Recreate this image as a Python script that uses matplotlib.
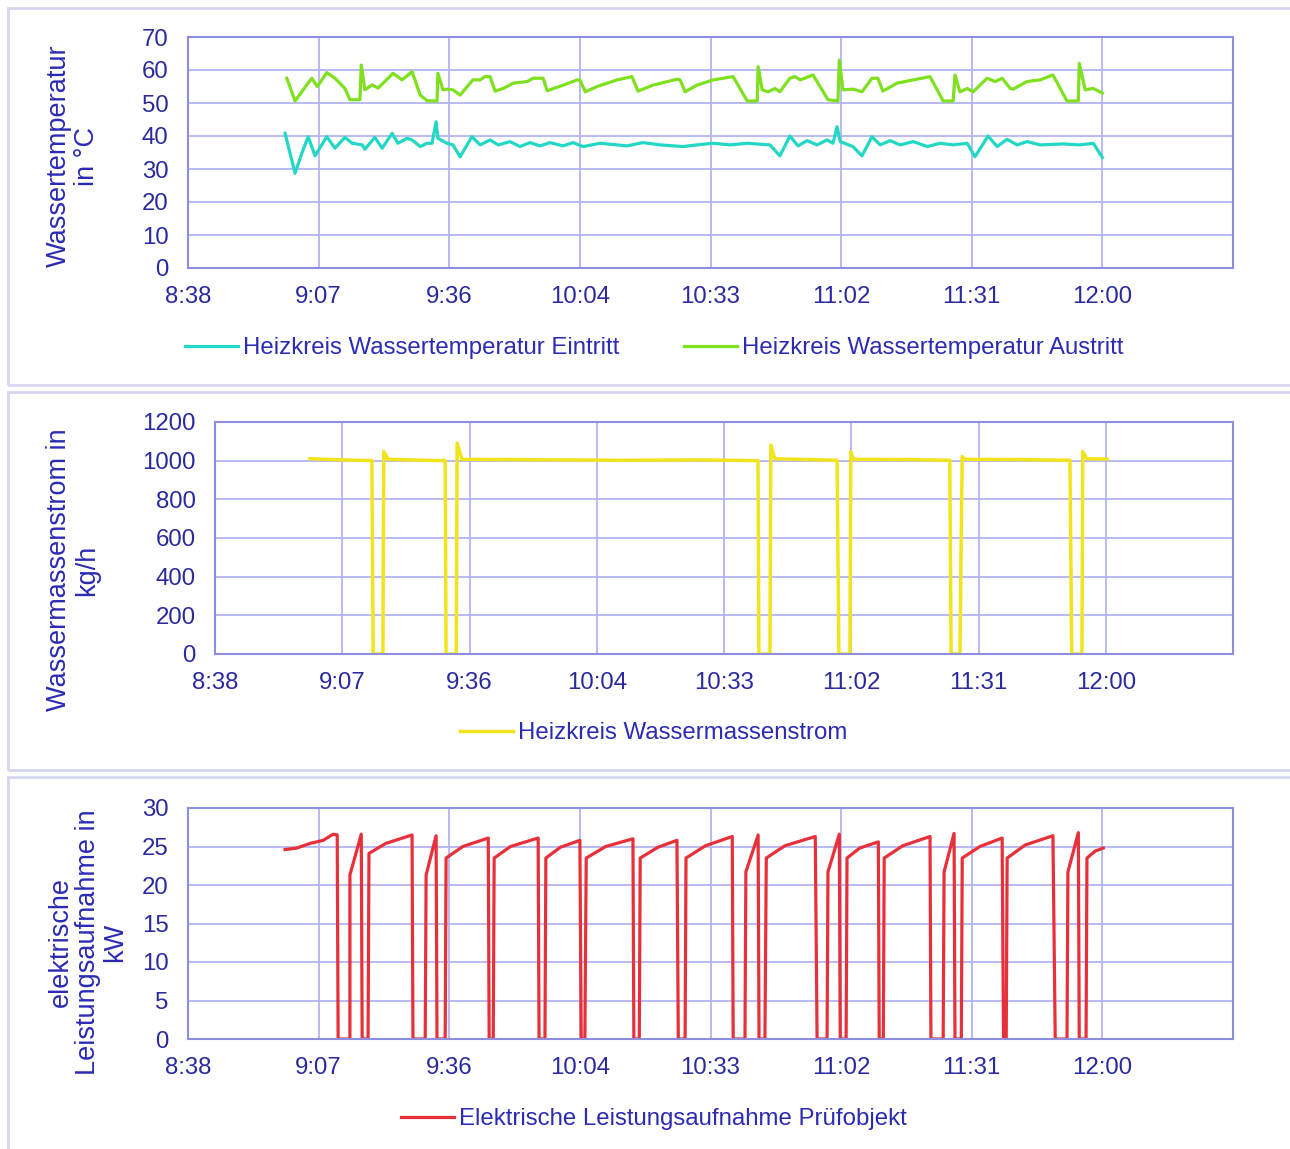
import matplotlib
matplotlib.use("Agg")
import matplotlib.pyplot as plt
from matplotlib.patches import Rectangle

plt.rcParams['font.family'] = ['Liberation Sans', 'DejaVu Sans']

# ---------------- data (time in minutes since midnight) ----------------
x_tick_labels = ["8:38", "9:07", "9:36", "10:04", "10:33", "11:02", "11:31", "12:00"]
x_ticks = [518.4, 547.2, 576.0, 604.8, 633.6, 662.4, 691.2, 720.0]
x_min, x_max = 518.4, 748.8

# Heizkreis Wassertemperatur Eintritt
t_ein = [539.8, 542.0, 543.5, 544.9, 546.4, 549.0, 550.8, 553.0, 554.6, 556.8, 557.4,
         559.6, 561.2, 563.4, 564.7, 566.7, 567.8, 569.6, 571.1, 572.2, 573.1, 573.5,
         575.5, 576.8, 578.4, 581.0, 582.8, 585.0, 586.8, 589.4, 591.6, 593.8, 596.0,
         598.2, 601.1, 603.3, 605.5, 609.3, 615.2, 618.7, 622.5, 627.6, 630.6, 634.2,
         637.9, 641.7, 646.7, 648.9, 651.1, 652.9, 654.9, 657.1, 659.3, 660.6, 661.5,
         662.2, 665.0, 667.0, 669.2, 671.0, 673.2, 675.4, 678.3, 681.4, 684.2, 687.1,
         690.2, 691.9, 694.8, 696.8, 699.0, 701.2, 703.4, 706.3, 711.3, 715.1, 718.0,
         720.0]
v_ein = [40.8, 28.7, 34.8, 39.8, 34.0, 39.8, 36.3, 39.6, 37.8, 37.3, 36.0,
         39.6, 36.3, 40.8, 37.8, 39.3, 38.8, 36.8, 37.8, 37.8, 44.3, 39.3,
         37.8, 37.3, 33.7, 39.8, 37.3, 38.8, 37.3, 38.3, 36.8, 38.0, 37.0,
         38.0, 37.0, 38.0, 36.8, 37.8, 37.0, 38.0, 37.3, 36.8, 37.3, 37.8,
         37.3, 37.8, 37.3, 34.0, 40.0, 37.0, 38.6, 37.3, 38.8, 37.8, 42.8,
         38.3, 36.8, 34.0, 39.8, 37.3, 38.6, 37.3, 38.3, 36.8, 37.8, 37.3,
         37.8, 33.7, 40.0, 36.8, 39.0, 37.3, 38.3, 37.3, 37.6, 37.3, 37.8,
         33.5]

# Heizkreis Wassertemperatur Austritt
t_aus = [540.2, 542.0, 544.6, 545.7, 546.9, 549.0, 550.8, 553.0, 554.1, 556.3, 556.6,
         557.4, 559.0, 560.3, 563.6, 565.6, 567.8, 569.6, 571.1, 573.3, 573.5, 574.6,
         575.5, 576.8, 578.4, 581.2, 582.8, 583.9, 585.0, 586.1, 587.9, 590.1, 593.2,
         594.5, 596.7, 597.6, 601.1, 604.2, 604.8, 606.0, 608.6, 613.0, 616.3, 617.6,
         620.9, 626.2, 626.9, 628.0, 630.6, 634.2, 638.6, 641.7, 643.9, 644.1, 645.0,
         646.3, 647.8, 648.9, 651.1, 652.2, 653.4, 656.2, 659.5, 661.7, 662.0, 662.8,
         665.0, 667.0, 669.2, 670.5, 671.6, 674.7, 678.3, 682.0, 684.9, 687.1, 687.5,
         688.6, 690.2, 691.5, 694.6, 696.4, 697.9, 699.7, 700.3, 703.4, 706.3, 709.1,
         712.2, 714.7, 714.9, 716.2, 718.0, 720.0]
v_aus = [57.5, 50.6, 55.5, 57.5, 55.0, 59.2, 57.5, 54.4, 51.0, 51.0, 61.5,
         54.0, 55.5, 54.5, 59.0, 57.0, 59.5, 52.4, 50.7, 50.6, 59.0, 54.0,
         54.2, 54.0, 52.4, 57.0, 57.0, 58.0, 58.0, 53.6, 54.4, 56.0, 56.5,
         57.5, 57.5, 53.7, 55.4, 57.0, 57.0, 53.4, 55.0, 57.0, 58.0, 53.6,
         55.4, 57.2, 57.0, 53.4, 55.4, 57.0, 58.0, 50.6, 50.6, 61.0, 54.0,
         53.4, 54.4, 53.4, 57.5, 58.0, 57.0, 58.5, 51.0, 50.6, 63.0, 54.0,
         54.2, 53.4, 57.5, 57.5, 53.6, 56.0, 57.0, 58.0, 50.6, 50.6, 58.5,
         53.4, 54.4, 53.4, 57.5, 56.5, 57.5, 54.4, 54.2, 56.5, 57.0, 58.5,
         50.6, 50.6, 62.0, 54.0, 54.4, 53.0]

# Heizkreis Wassermassenstrom
t_mass = [539.9, 546.0, 553.9, 554.2, 556.4, 556.6, 557.6, 564.0, 570.5, 570.7, 573.0,
          573.2, 574.3, 590.0, 610.0, 628.2, 641.3, 641.5, 644.0, 644.2, 645.1,
          652.0, 659.2, 659.6, 662.1, 662.3, 662.8, 675.0, 684.7, 685.0, 687.0,
          687.5, 688.1, 700.0, 711.9, 712.3, 714.6, 714.8, 715.7, 720.3]
v_mass = [1010, 1005, 1000, 0, 0, 1047, 1007, 1003, 1000, 0, 0,
          1091, 1007, 1005, 1002, 1004, 1000, 0, 0, 1081, 1010,
          1006, 1002, 0, 0, 1047, 1007, 1006, 1002, 0, 0,
          1021, 1007, 1006, 1002, 0, 0, 1047, 1010, 1008]

# Elektrische Leistungsaufnahme Pruefobjekt
t_el = [539.8, 542.4, 545.3, 548.2, 550.4, 551.3, 551.5, 554.1, 554.1, 556.6, 556.8,
        558.1, 558.3, 562.0, 567.8, 568.0, 570.7, 570.9, 573.1, 573.3, 575.1, 575.3,
        579.0, 584.6, 584.8, 585.7, 585.9, 589.5, 595.6, 595.8, 597.1, 597.3, 600.5,
        604.8, 605.1, 605.9, 606.2, 610.5, 616.5, 616.7, 617.9, 618.1, 622.0, 626.2,
        626.5, 628.0, 628.2, 632.5, 638.4, 638.6, 641.2, 641.4, 644.1, 644.3, 645.6,
        645.9, 650.0, 656.7, 657.1, 659.3, 659.5, 662.0, 662.2, 663.5, 663.7, 666.5,
        670.6, 670.8, 671.7, 671.9, 676.0, 682.0, 682.2, 684.9, 685.1, 687.3, 687.5,
        688.9, 689.1, 693.0, 697.9, 698.2, 698.8, 699.0, 703.0, 709.1, 709.6, 712.2,
        712.4, 714.7, 714.9, 716.4, 716.6, 718.4, 720.2]
v_el = [24.6, 24.8, 25.4, 25.8, 26.6, 26.5, 0, 0, 21.3, 26.6, 0,
        0, 24.1, 25.4, 26.5, 0, 0, 21.3, 26.4, 0, 0, 23.5,
        25.0, 26.1, 0, 0, 23.5, 25.0, 26.1, 0, 0, 23.5, 24.9,
        25.8, 0, 0, 23.5, 25.0, 26.0, 0, 0, 23.5, 24.9, 25.8,
        0, 0, 23.5, 25.1, 26.3, 0, 0, 21.7, 26.5, 0, 0,
        23.5, 25.1, 26.3, 0, 0, 21.7, 26.6, 0, 0, 23.5, 24.8,
        25.6, 0, 0, 23.5, 25.1, 26.3, 0, 0, 21.7, 26.7, 0,
        0, 23.5, 25.0, 26.1, 0, 0, 23.5, 25.2, 26.4, 0, 0,
        21.7, 26.8, 0, 0, 23.5, 24.4, 24.8]

# ---------------- styling ----------------
TXT = "#2b2bb3"
TICK = "#2a2a9e"
GRID = "#b4b4f2"
SPINE = "#8e8ee0"
BOX = "#d6d6f2"
FS = 17.3
FS_LAB = 19.5

fig = plt.figure(figsize=(12.9, 11.49), dpi=100)
W, H = 1290.0, 1149.0

def fx(px):
    return px / W

def fy(py):
    return 1 - py / H

# panel boxes
for (top, bot) in [(8, 385), (392, 770), (777, 1152)]:
    fig.patches.append(Rectangle((fx(8), fy(bot)), fx(1300) - fx(8), fy(top) - fy(bot),
                                 transform=fig.transFigure, fill=False,
                                 edgecolor=BOX, linewidth=2.0))

def make_axes(left, top, bottom, ymax, ystep, ylabel_lines, ylabel_x, ylabel_y):
    ax = fig.add_axes([fx(left), fy(bottom), fx(1233) - fx(left), fy(top) - fy(bottom)])
    ax.set_xlim(x_min, x_max)
    ax.set_ylim(0, ymax)
    ax.set_xticks(x_ticks)
    ax.set_xticklabels(x_tick_labels)
    ax.set_yticks(list(range(0, ymax + 1, ystep)))
    ax.grid(True, color=GRID, linewidth=1.3)
    ax.set_axisbelow(True)
    for s in ax.spines.values():
        s.set_color(SPINE)
        s.set_linewidth(1.5)
    ax.tick_params(axis='both', length=0, labelsize=FS, labelcolor=TICK)
    ax.tick_params(axis='x', pad=13)
    ax.tick_params(axis='y', pad=14)
    fig.text(fx(ylabel_x), fy(ylabel_y), ylabel_lines, rotation=90, ha='center', va='center',
             multialignment='center', fontsize=FS_LAB, color=TXT, linespacing=1.08)
    return ax

# ---- panel 1
ax1 = make_axes(188, 37, 268, 70, 10, "Wassertemperatur\nin °C", 73, 156)
l1, = ax1.plot(t_ein, v_ein, color="#22d8c4", lw=2.3)
l2, = ax1.plot(t_aus, v_aus, color="#7ee01e", lw=2.3)
fig.legend([l1, l2], ["Heizkreis Wassertemperatur Eintritt", "Heizkreis Wassertemperatur Austritt"],
           loc='center', bbox_to_anchor=(fx(654), fy(348)), ncol=2, frameon=False,
           fontsize=FS, labelcolor=TXT, handlelength=2.2, handletextpad=0.2,
           columnspacing=2.7)

# ---- panel 2
ax2 = make_axes(215, 422, 654, 1200, 200, "Wassermassenstrom in\nkg/h", 73, 570)
l3, = ax2.plot(t_mass, v_mass, color="#f2e41c", lw=2.5)
fig.legend([l3], ["Heizkreis Wassermassenstrom"],
           loc='center', bbox_to_anchor=(fx(654), fy(733)), frameon=False,
           fontsize=FS, labelcolor=TXT, handlelength=2.2, handletextpad=0.2)

# ---- panel 3
ax3 = make_axes(188, 808, 1039, 30, 5, "elektrische\nLeistungsaufnahme in\nkW", 88, 942)
l4, = ax3.plot(t_el, v_el, color="#e8303a", lw=2.3)
fig.legend([l4], ["Elektrische Leistungsaufnahme Prüfobjekt"],
           loc='center', bbox_to_anchor=(fx(654), fy(1119)), frameon=False,
           fontsize=FS, labelcolor=TXT, handlelength=2.2, handletextpad=0.2)

fig.savefig("out.png", dpi=100, facecolor="white")
